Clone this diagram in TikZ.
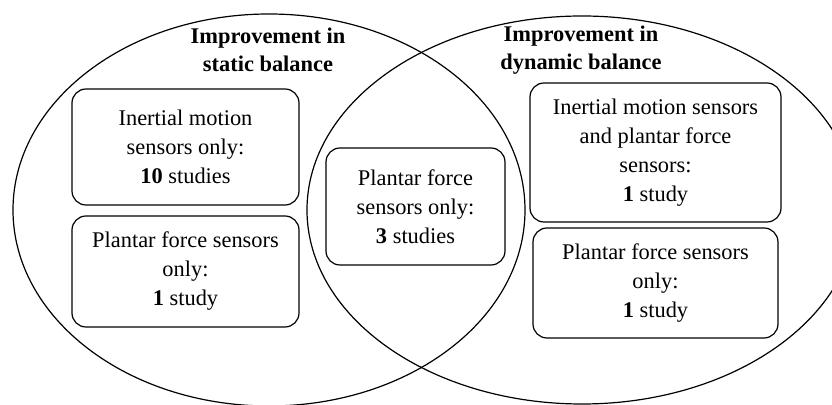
\documentclass[tikz,border=0pt]{standalone}
\usepackage{fontspec}
\setmainfont{Liberation Serif}
\usepackage{tikz}
\usetikzlibrary{shapes, positioning}

\begin{document}
\begin{tikzpicture}
  [
    x=0.5pt, y=-0.5pt,
    Set/.style={draw=black, line width=0.6pt},
    Box/.style={rectangle, rounded corners=7pt, draw=black, line width=0.6pt, align=center, inner sep=0pt, font=\fontsize{11.2}{14.5}\selectfont},
    Title/.style={align=center, font=\fontsize{11.2}{14}\selectfont\bfseries}
  ]
  \useasboundingbox (0,0) rectangle (832,405);
  \begin{scope}
  \clip (0,0) rectangle (832,405);
  % Sets
  \draw[Set] (269,210) ellipse [x radius=128pt, y radius=98pt];
  \draw[Set] (582,210) ellipse [x radius=137.5pt, y radius=97pt];
  \end{scope}

  % Titles
  \node[Title] (static) at(268, 50) {Improvement in\\static balance};

  \node[Title] (dynamic) at(581, 50) {Improvement in\\dynamic balance};

  % Nodes
  \node[Box, minimum width=113.5pt, minimum height=58pt] (imuS) at(185.5, 147) {Inertial motion\\sensors only:\\\textbf{10} studies};

  \node[Box, minimum width=113.5pt, minimum height=55.5pt] (pfS) at(185.5, 271.5) {Plantar force sensors\\only:\\\textbf{1} study};

  \node[Box, minimum width=89.5pt, minimum height=58.5pt] (pfB) at(415.5, 206.5) {Plantar force\\sensors only:\\\textbf{3} studies};

  \node[Box, minimum width=125.5pt, minimum height=69.5pt] (bothD) at(655.5, 152.5) {Inertial motion sensors\\and plantar force\\sensors:\\\textbf{1} study};

  \node[Box, minimum width=122.5pt, minimum height=55pt] (pfD) at(655.5, 283) {Plantar force sensors\\only:\\\textbf{1} study};

\end{tikzpicture}
\end{document}
